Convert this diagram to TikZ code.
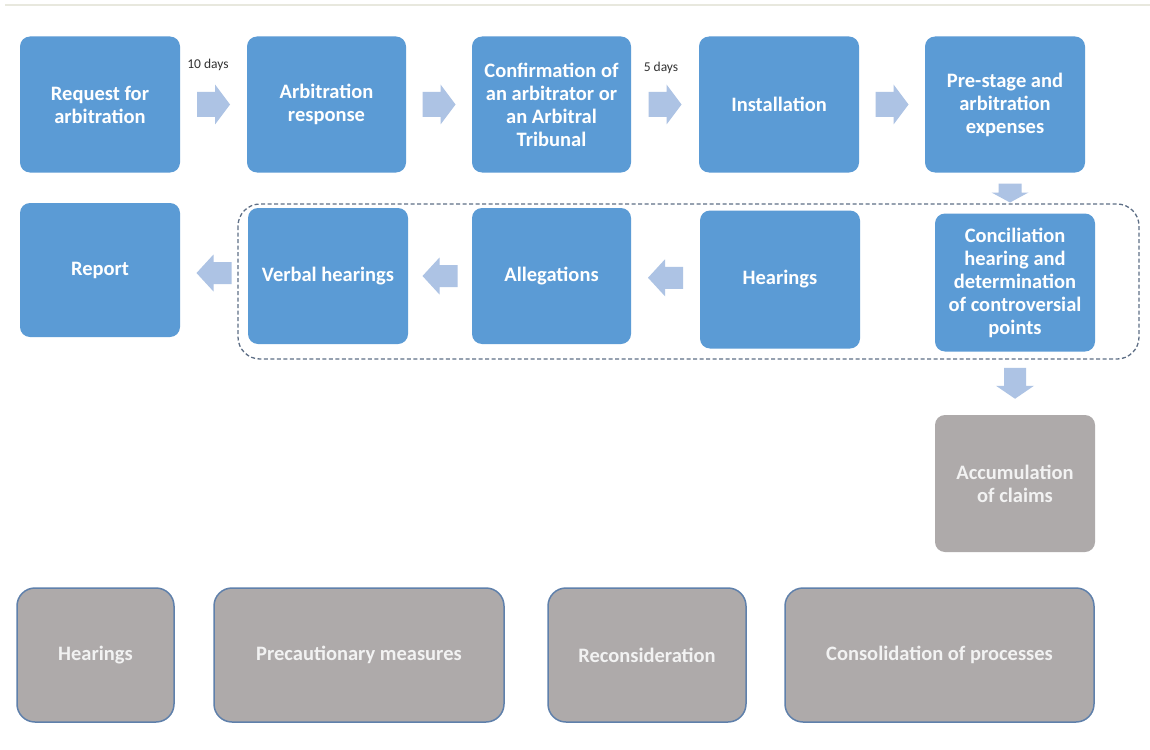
\documentclass[tikz,border=0pt]{standalone}
\usepackage{fontspec}
\setmainfont{Carlito}
\usetikzlibrary{calc}
\definecolor{boxblue}{HTML}{5B9BD5}
\definecolor{boxgray}{HTML}{AEAAAA}
\definecolor{graytext}{HTML}{F2F2F2}
\definecolor{borderblue}{HTML}{5F80AB}
\definecolor{arrowfill}{HTML}{ADC3E4}
\definecolor{dashcol}{HTML}{5E6F86}
\definecolor{topline}{HTML}{E8E8DE}
\definecolor{daytext}{HTML}{333333}
\tikzset{
  box/.style={rounded corners=10pt, minimum width=160pt, minimum height=136pt, inner sep=0pt, align=center, font=\fontsize{20.5}{23}\selectfont\bfseries},
  bluebox/.style={box, fill=boxblue, text=white},
  graybox/.style={box, fill=boxgray, text=graytext},
  grayframed/.style={graybox, draw=borderblue, line width=1.5pt, rounded corners=18pt},
  daylabel/.style={font=\fontsize{13.5}{15}\selectfont, text=daytext, inner sep=0pt},
  dashbox/.style={draw=dashcol, line width=1.3pt, dash pattern=on 4pt off 2.5pt, rounded corners=22pt},
  pics/barrow/.style n args={4}{code={
    \fill[arrowfill] ({-(#1+#2)/2},{-#3}) -- ({-(#1+#2)/2+#1},{-#3}) -- ({-(#1+#2)/2+#1},{-#4})
      -- ({(#1+#2)/2},0) -- ({-(#1+#2)/2+#1},{#4}) -- ({-(#1+#2)/2+#1},{#3}) -- ({-(#1+#2)/2},{#3}) -- cycle;
  }}
}
\begin{document}
\begin{tikzpicture}[x=1pt,y=-1pt]
\useasboundingbox[fill=white] (0,0) rectangle (1150,749);
\draw[topline, line width=2pt] (5,5) -- (1150,5);

% top row
\node[bluebox] (req)  at (100,104.5)   {Request for\\arbitration};
\node[bluebox, minimum width=159pt] (resp) at (326.5,104.5) {Arbitration\\response};
\node[bluebox, minimum width=159pt] (conf) at (551.5,104.5) {Confirmation of\\an arbitrator or\\an Arbitral\\Tribunal};
\node[bluebox] (inst) at (779,104.5)   {Installation};
\node[bluebox] (pre)  at (1005,104.5)  {Pre-stage and\\arbitration\\expenses};

% second row
\node[bluebox, minimum height=134pt] (report) at (100,270)  {Report};
\node[bluebox] (verbal) at (328,276)   {Verbal hearings};
\node[bluebox, minimum width=159pt] (alleg) at (551.5,276) {Allegations};
\node[bluebox, minimum height=138pt] (hear) at (780,279.5) {Hearings};
\node[bluebox, minimum height=138pt] (conc) at (1015,282.5) {Conciliation\\hearing and\\determination\\of controversial\\points};

\draw[dashbox] (238,204) rectangle (1139,359);

\node[graybox, minimum height=137pt] (acc) at (1015,483.5) {Accumulation\\of claims};

% bottom row
\node[grayframed, minimum width=157pt, minimum height=134pt] (bhear) at (95.5,655) {Hearings};
\node[grayframed, minimum width=290pt, minimum height=134pt] (prec) at (359,655) {Precautionary measures};
\node[grayframed, minimum width=198pt, minimum height=134pt] (recon) at (647,655) {Reconsideration};
\node[grayframed, minimum width=309pt, minimum height=134pt] (consol) at (939.5,655) {Consolidation of processes};

% day labels
\node[daylabel] (d10) at (208,65) {10 days};
\node[daylabel] (d5) at (661,68) {5 days};

% block arrows (connectors)
\pic at ($(req.east)!0.5!(resp.west)$) {barrow={18}{15}{12.5}{20}};
\pic at ($(resp.east)!0.5!(conf.west)$) {barrow={18}{15}{12.5}{20}};
\pic at ($(conf.east)!0.5!(inst.west)$) {barrow={18}{15}{12.5}{20}};
\pic at ($(inst.east)!0.5!(pre.west)$) {barrow={18}{15}{12.5}{20}};
\pic[rotate=-90] at ($(pre.south)!0.5!(conc.north)$) {barrow={9}{10}{11.5}{18.5}};
\pic[rotate=180] at ($(hear.west)!0.5!(alleg.east)$) {barrow={18}{17}{11}{18.5}};
\pic[rotate=180] at ($(alleg.west)!0.5!(verbal.east)$) {barrow={18}{17}{11}{18.5}};
\pic[rotate=180] at ($(verbal.west)!0.5!(report.east)$) {barrow={18}{17}{11}{18.5}};
\pic[rotate=-90] at ($(conc.south)!0.5!(acc.north)$) {barrow={18}{13}{11}{19}};
\end{tikzpicture}
\end{document}
